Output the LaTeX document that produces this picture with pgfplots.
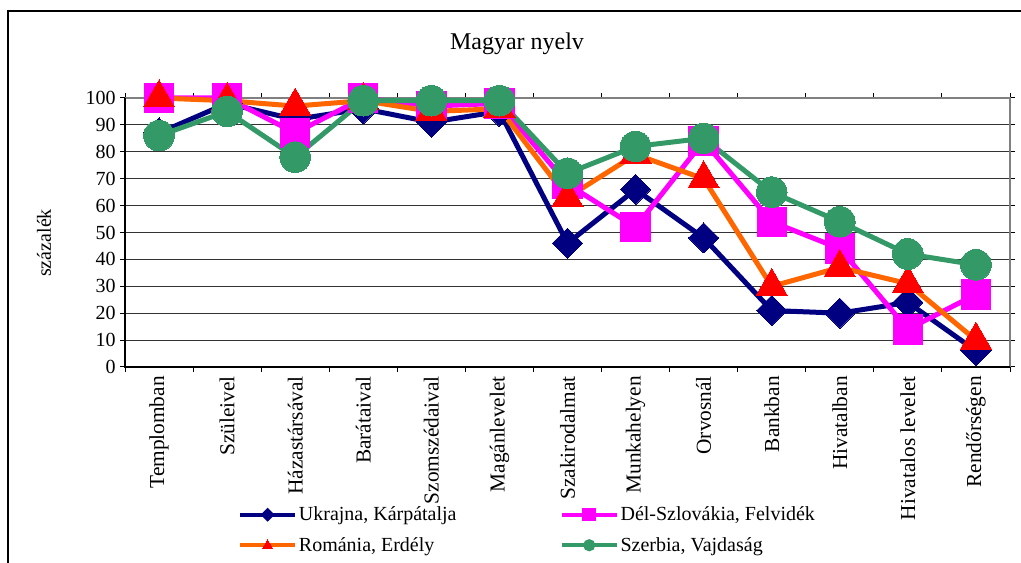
\documentclass[border=0pt]{standalone}
\usepackage{fontspec}
\setmainfont{Liberation Serif}
\usepackage{pgfplots}
\pgfplotsset{compat=1.18}
\definecolor{cUkr}{RGB}{0,0,128}
\definecolor{cSlo}{RGB}{255,0,255}
\definecolor{cRomL}{RGB}{255,102,0}
\definecolor{cRomM}{RGB}{255,0,0}
\definecolor{cSrb}{RGB}{51,153,102}
\newcommand{\fs}{\fontsize{15}{18}\selectfont}
\begin{document}
\begin{tikzpicture}
\path[use as bounding box] (0,0) rectangle (765.75pt,422.25pt);
\draw[line width=1.5pt,black] (6pt,-5pt) -- (6pt,414pt) -- (770pt,414pt);
\node[font=\fontsize{18}{21}\selectfont] at (387.75pt,389.25pt) {Magyar nyelv};
\node[font=\fs,rotate=90] at (33pt,240pt) {százalék};
\begin{axis}[
  at={(93.75pt,147pt)}, anchor=south west,
  width=663.75pt, height=201.75pt, scale only axis,
  xmin=-0.5, xmax=12.5, ymin=0, ymax=100,
  clip=false,
  axis line style={draw=none},
  xtick={0,...,12},
  xticklabels={Templomban,Szüleivel,Házastársával,Barátaival,Szomszédaival,Magánlevelet,Szakirodalmat,Munkahelyen,Orvosnál,Bankban,Hivatalban,Hivatalos levelet,Rendőrségen},
  minor xtick={-0.5,0.5,...,12.5},
  major x tick style={draw=none},
  minor x tick style={draw=black,line width=0.75pt},
  ytick={0,10,...,100},
  major y tick style={draw=black,line width=0.75pt},
  tick align=outside,
  major tick length=3.75pt, minor tick length=3.75pt,
  ymajorgrids, xmajorgrids=false,
  major grid style={black!80,line width=0.7pt},
  /pgf/number format/assume math mode=true,
  ticklabel style={font=\fs},
  xticklabel style={rotate=90,anchor=east,inner sep=3pt,font=\fontsize{16}{19}\selectfont},
  yticklabel style={inner sep=3pt},
  legend columns=2,
  legend cell align=left,
  legend style={draw=none,fill=none,at={(0.128,-0.512)},anchor=north west,
    inner sep=0pt,outer sep=0pt,font=\fs,row sep=8pt,
    nodes={inner sep=1.5pt},
    /tikz/every even column/.append style={column sep=76pt}},
  legend image code/.code={\draw[mark repeat=2,mark phase=2,#1] plot coordinates {(0cm,0cm) (0.72cm,0cm) (1.44cm,0cm)};},
]
\draw[black!50,line width=1.5pt] (rel axis cs:0,1) -- (rel axis cs:1,1) -- (rel axis cs:1,0);
\draw[black,line width=1pt] (rel axis cs:0,1) -- (rel axis cs:0,0) -- (rel axis cs:1,0);

\addlegendimage{cUkr,line width=3pt,mark=square*,mark size=2.2pt,mark options={rotate=45,fill=cUkr,draw=cUkr}}
\addlegendentry{Ukrajna, Kárpátalja}
\addlegendimage{cSlo,line width=3pt,mark=square*,mark size=3.6pt,mark options={fill=cSlo,draw=cSlo}}
\addlegendentry{Dél-Szlovákia, Felvidék}
\addlegendimage{cRomL,line width=3pt,mark=triangle*,mark size=4.2pt,mark options={fill=cRomM,draw=cRomM,line width=0pt}}
\addlegendentry{Románia, Erdély}
\addlegendimage{cSrb,line width=3pt,mark=*,mark size=3pt,mark options={fill=cSrb,draw=cSrb}}
\addlegendentry{Szerbia, Vajdaság}

\addplot[forget plot,cUkr,line width=3.75pt,mark=square*,mark size=8pt,mark options={rotate=45,fill=cUkr,draw=cUkr,line width=0pt}]
coordinates {(0,87)(1,98)(2,92)(3,96)(4,91)(5,95)(6,46)(7,66)(8,48)(9,21)(10,20)(11,24)(12,6)};
\addplot[forget plot,cSlo,line width=3.75pt,mark=square*,mark size=11pt,mark options={fill=cSlo,draw=cSlo,line width=0pt}]
coordinates {(0,100)(1,100)(2,87)(3,100)(4,97)(5,98)(6,68)(7,52)(8,84)(9,54)(10,44)(11,14)(12,27)};
\addplot[forget plot,cRomL,line width=3.75pt,mark=triangle*,mark size=13.5pt,mark options={fill=cRomM,draw=cRomM,line width=0pt}]
coordinates {(0,100)(1,99)(2,97)(3,99)(4,95)(5,96)(6,63)(7,79)(8,70)(9,30)(10,37)(11,31)(12,10)};
\addplot[forget plot,cSrb,line width=3.75pt,mark=*,mark size=11.5pt,mark options={fill=cSrb,draw=cSrb,line width=0pt}]
coordinates {(0,86)(1,95)(2,78)(3,99)(4,99)(5,99)(6,72)(7,82)(8,85)(9,65)(10,54)(11,42)(12,38)};
\end{axis}
\end{tikzpicture}
\end{document}
